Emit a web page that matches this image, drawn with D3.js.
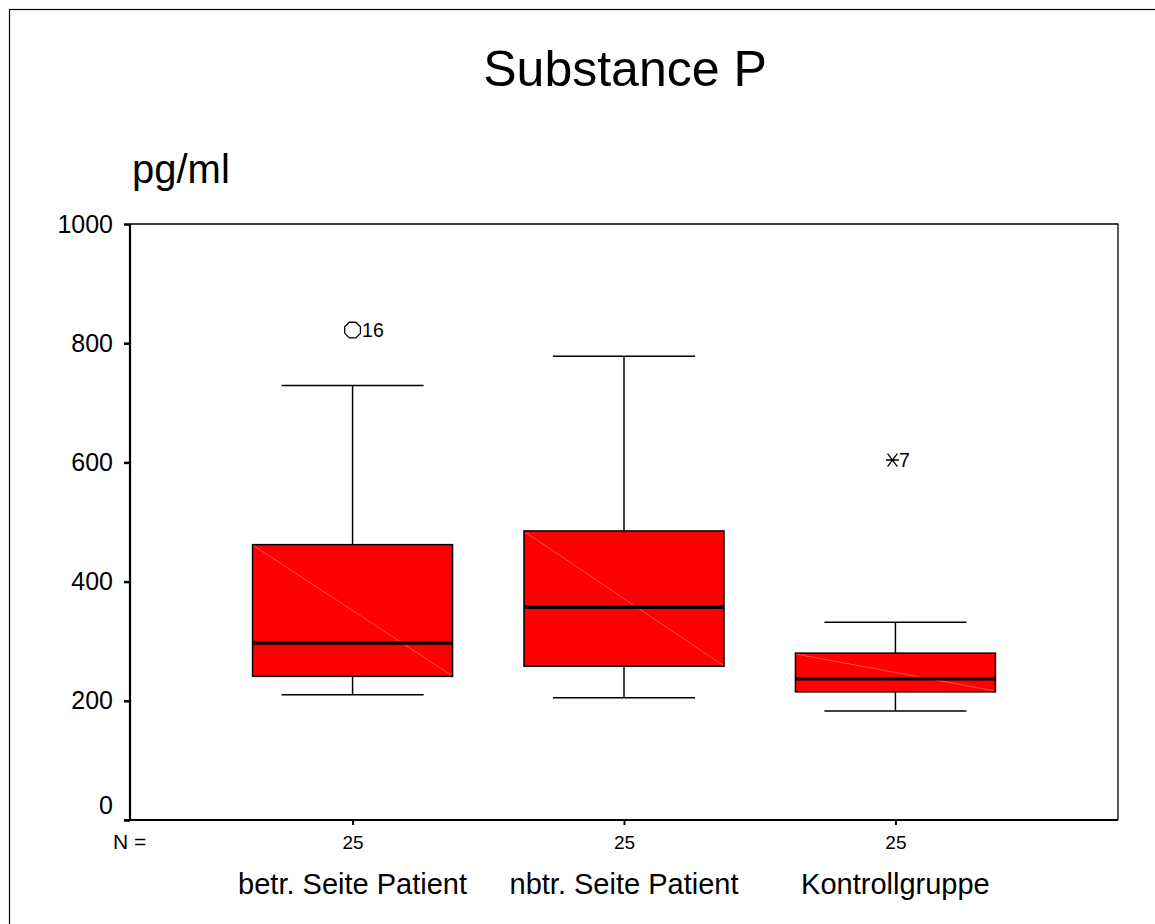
<!DOCTYPE html>
<html><head><meta charset="utf-8">
<script src="https://cdn.jsdelivr.net/npm/d3@7"></script>
<style>body{margin:0;background:#fff}svg{display:block;font-family:"Liberation Sans",Arial,sans-serif}</style>
</head><body>
<script>
const categories = ["betr. Seite Patient", "nbtr. Seite Patient", "Kontrollgruppe"];
const nCounts = [25, 25, 25];
const whiskerLow = [210, 205, 183];
const q1 = [241, 258, 215];
const median = [297, 357, 237];
const q3 = [462, 485, 280];
const whiskerHigh = [729, 778, 332];
const outlierValues = [822, null, 604];
const outlierLabels = ["16", null, "7"];
const outlierTypes = ["circle", null, "star"];
const yTicks = [0, 200, 400, 600, 800, 1000];

(function () {
const W = 1155, H = 924;
const svg = d3.select("body").append("svg").attr("width", W).attr("height", H);

// outer frame
svg.append("rect").attr("x", 9.5).attr("y", 9.5).attr("width", 1170).attr("height", 940)
  .attr("fill", "none").attr("stroke", "#000").attr("stroke-width", 1.2);

const pl = 130, pr = 1118, pt = 224, pb = 820;
const y = d3.scaleLinear().domain([0, 1000]).range([pb, pt]);
const x = d3.scalePoint().domain(categories).range([pl, pr]).padding(0.82);
const boxW = 200, capW = 142;

// plot frame (top/right)
svg.append("path").attr("d", `M${pl},${pt}H${pr}V${pb}`)
  .attr("fill", "none").attr("stroke", "#000").attr("stroke-width", 1.3);

// y axis
const yAxis = d3.axisLeft(y).tickValues(yTicks).tickSize(6).tickPadding(11).tickFormat(d3.format("d"));
const gy = svg.append("g").attr("transform", `translate(${pl},0)`).call(yAxis);
gy.select(".domain").attr("stroke-width", 2.2).attr("d", `M0,${pt}V${pb}`);
gy.selectAll(".tick line").attr("stroke-width", 2.5);
gy.selectAll(".tick text").attr("font-size", 25).attr("fill", "#000")
  .attr("font-family", "Liberation Sans, Arial, sans-serif")
  .attr("dy", d => d === 0 ? "-0.28em" : "0.32em");

// x axis
const xAxis = d3.axisBottom(x).tickSize(5).tickFormat((d, i) => nCounts[i]).tickPadding(10.5);
const gx = svg.append("g").attr("transform", `translate(0,${pb})`).call(xAxis);
gx.select(".domain").attr("stroke-width", 2.2).attr("d", `M${pl-6},0H${pr}`);
gx.selectAll(".tick line").attr("stroke-width", 2);
gx.selectAll(".tick text").attr("font-size", 19).attr("fill", "#000")
  .attr("font-family", "Liberation Sans, Arial, sans-serif");

svg.append("text").attr("x", 113).attr("y", 849).attr("font-size", 21).text("N =");

// category labels
svg.selectAll(".cat").data(categories).enter().append("text")
  .attr("x", d => x(d)).attr("y", 894).attr("text-anchor", "middle")
  .attr("font-size", 29).text(d => d);

// title
svg.append("text").attr("x", 625).attr("y", 86).attr("text-anchor", "middle")
  .attr("font-size", 50).text("Substance P");
svg.append("text").attr("x", 132).attr("y", 183).attr("font-size", 40).text("pg/ml");

// boxes
const g = svg.selectAll(".box").data(categories).enter().append("g");
g.append("line").attr("x1", d => x(d)).attr("x2", d => x(d))
  .attr("y1", (d, i) => y(whiskerHigh[i])).attr("y2", (d, i) => y(q3[i]))
  .attr("stroke", "#000").attr("stroke-width", 1.5);
g.append("line").attr("x1", d => x(d)).attr("x2", d => x(d))
  .attr("y1", (d, i) => y(q1[i])).attr("y2", (d, i) => y(whiskerLow[i]))
  .attr("stroke", "#000").attr("stroke-width", 1.5);
g.append("line").attr("x1", d => x(d) - capW / 2).attr("x2", d => x(d) + capW / 2)
  .attr("y1", (d, i) => y(whiskerHigh[i])).attr("y2", (d, i) => y(whiskerHigh[i]))
  .attr("stroke", "#000").attr("stroke-width", 1.5);
g.append("line").attr("x1", d => x(d) - capW / 2).attr("x2", d => x(d) + capW / 2)
  .attr("y1", (d, i) => y(whiskerLow[i])).attr("y2", (d, i) => y(whiskerLow[i]))
  .attr("stroke", "#000").attr("stroke-width", 1.5);
g.append("rect").attr("x", d => x(d) - boxW / 2).attr("width", boxW)
  .attr("y", (d, i) => y(q3[i])).attr("height", (d, i) => y(q1[i]) - y(q3[i]))
  .attr("fill", "#ff0000").attr("stroke", "#000").attr("stroke-width", 1.5);
g.append("line").attr("x1", d => x(d) - boxW / 2 + 1).attr("x2", d => x(d) + boxW / 2 - 1)
  .attr("y1", (d, i) => y(q3[i]) + 1).attr("y2", (d, i) => y(q1[i]) - 1)
  .attr("stroke", "#ff6a6a").attr("stroke-width", 0.8);
g.append("line").attr("x1", d => x(d) - boxW / 2).attr("x2", d => x(d) + boxW / 2)
  .attr("y1", (d, i) => y(median[i])).attr("y2", (d, i) => y(median[i]))
  .attr("stroke", "#000").attr("stroke-width", 3.5);

// outliers
categories.forEach((c, i) => {
  if (outlierValues[i] == null) return;
  const cx = x(c), cy = y(outlierValues[i]);
  if (outlierTypes[i] === "circle") {
    const pts = d3.range(8).map(k => {
      const a = Math.PI / 8 + k * Math.PI / 4;
      return [cx + 8.5 * Math.cos(a), cy + 8.5 * Math.sin(a)];
    });
    svg.append("path").attr("d", "M" + pts.join("L") + "Z").attr("fill", "none")
      .attr("stroke", "#000").attr("stroke-width", 1.3);
    svg.append("text").attr("x", cx + 9.5).attr("y", cy + 7).attr("font-size", 19.5).text(outlierLabels[i]);
  } else {
    const r = 6.5, cxs = cx - 3;
    svg.append("path")
      .attr("d", `M${cxs - r},${cy}H${cxs + r}M${cxs - r * 0.75},${cy - r}L${cxs + r * 0.75},${cy + r}M${cxs - r * 0.75},${cy + r}L${cxs + r * 0.75},${cy - r}`)
      .attr("stroke", "#000").attr("stroke-width", 1.3).attr("fill", "none");
    svg.append("text").attr("x", cxs + 6.5).attr("y", cy + 7).attr("font-size", 19.5).text(outlierLabels[i]);
  }
});
})();
</script>
</body></html>
